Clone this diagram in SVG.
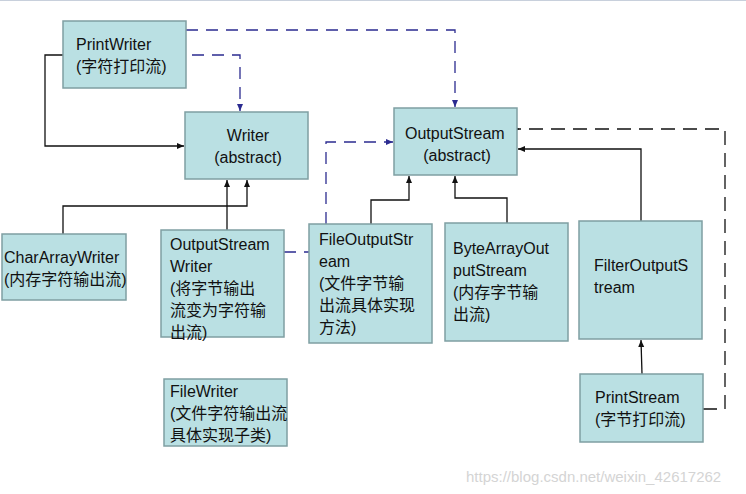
<svg xmlns="http://www.w3.org/2000/svg" width="746" height="494" viewBox="0 0 746 494">
<style>
.n{fill:#bae0e3;stroke:#7f9fa2;stroke-width:1.5}
text{font-family:"Liberation Sans","Noto Sans CJK SC",sans-serif;font-size:16px;fill:#111}
.s{fill:none;stroke:#111;stroke-width:1.3}
.d{fill:none;stroke:#2b2b90;stroke-width:1.3;stroke-dasharray:12 8}
.k{fill:none;stroke:#111;stroke-width:1.3;stroke-dasharray:14 8}
</style>
<defs>
<marker id="a" markerWidth="8" markerHeight="8" refX="7" refY="4" orient="auto" markerUnits="userSpaceOnUse"><path d="M0,1L7,4L0,7z" fill="#111"/></marker>
<marker id="b" markerWidth="8" markerHeight="8" refX="7" refY="4" orient="auto" markerUnits="userSpaceOnUse"><path d="M0,1L7,4L0,7z" fill="#2b2b90"/></marker>
<marker id="o" markerWidth="14" markerHeight="14" refX="1" refY="7" orient="auto" markerUnits="userSpaceOnUse"><path d="M12,1L1,7L12,13" fill="none" stroke="#111" stroke-width="1.2"/></marker>
</defs>
<rect width="746" height="494" fill="#fff"/>
<line x1="0" y1="0.5" x2="746" y2="0.5" stroke="#c8d0dc"/>
<g id="connectors">
<path class="d" d="M186,30H455V107" marker-end="url(#b)"/>
<path class="d" d="M192,55H240V111" marker-end="url(#b)"/>
<path class="s" d="M63,55H45V146H184" marker-end="url(#a)"/>
<path class="s" d="M63,234V206H247V180" marker-end="url(#a)"/>
<path class="s" d="M227,230V180" marker-end="url(#a)"/>
<path class="d" d="M284,252H309"/>
<path class="d" d="M326,224V142H393" marker-end="url(#b)"/>
<path class="s" d="M371,224V200H409V176" marker-end="url(#a)"/>
<path class="s" d="M507,223V198H455V176" marker-end="url(#a)"/>
<path class="s" d="M641,221V149H518" marker-end="url(#a)"/>
<path class="s" d="M642,374L641,340" marker-end="url(#a)"/>
<path class="k" d="M703,409H725V129H518" marker-end="url(#o)"/>
</g>
<g id="PrintWriter"><rect class="n" x="63" y="21" width="123" height="67"/><text x="76" y="50">PrintWriter</text><text x="76" y="72">(字符打印流)</text></g>
<g id="Writer"><rect class="n" x="185" y="112" width="123" height="67"/><text x="248" y="141" text-anchor="middle">Writer</text><text x="248" y="163" text-anchor="middle">(abstract)</text></g>
<g id="OutputStream"><rect class="n" x="394" y="108" width="123" height="67"/><text x="405" y="139">OutputStream</text><text x="457" y="161" text-anchor="middle">(abstract)</text></g>
<g id="CharArrayWriter"><rect class="n" x="2" y="234" width="124" height="66"/><text x="4" y="263">CharArrayWriter</text><text x="4" y="285">(内存字符输出流)</text></g>
<g id="OutputStreamWriter"><rect class="n" x="161" y="230" width="123" height="107"/><text x="170" y="250">OutputStream</text><text x="170" y="272">Writer</text><text x="170" y="294">(将字节输出</text><text x="170" y="316">流变为字符输</text><text x="170" y="338">出流)</text></g>
<g id="FileOutputStream"><rect class="n" x="309" y="224" width="123" height="119"/><text x="319" y="245">FileOutputStr</text><text x="319" y="267">eam</text><text x="319" y="289">(文件字节输</text><text x="319" y="311">出流具体实现</text><text x="319" y="333">方法)</text></g>
<g id="ByteArrayOutputStream"><rect class="n" x="445" y="223" width="123" height="118"/><text x="453" y="254">ByteArrayOut</text><text x="453" y="276">putStream</text><text x="453" y="298">(内存字节输</text><text x="453" y="320">出流)</text></g>
<g id="FilterOutputStream"><rect class="n" x="579" y="221" width="123" height="118"/><text x="594" y="271">FilterOutputS</text><text x="594" y="293">tream</text></g>
<g id="FileWriter"><rect class="n" x="164" y="379" width="123" height="67"/><text x="170" y="397">FileWriter</text><text x="170" y="419">(文件字符输出流</text><text x="170" y="441">具体实现子类)</text></g>
<g id="PrintStream"><rect class="n" x="580" y="374" width="123" height="68"/><text x="595" y="403">PrintStream</text><text x="595" y="425">(字节打印流)</text></g>
<text x="466" y="482" style="font-size:15px;fill:#d4d4d4">https://blog.csdn.net/weixin_42617262</text>
</svg>
